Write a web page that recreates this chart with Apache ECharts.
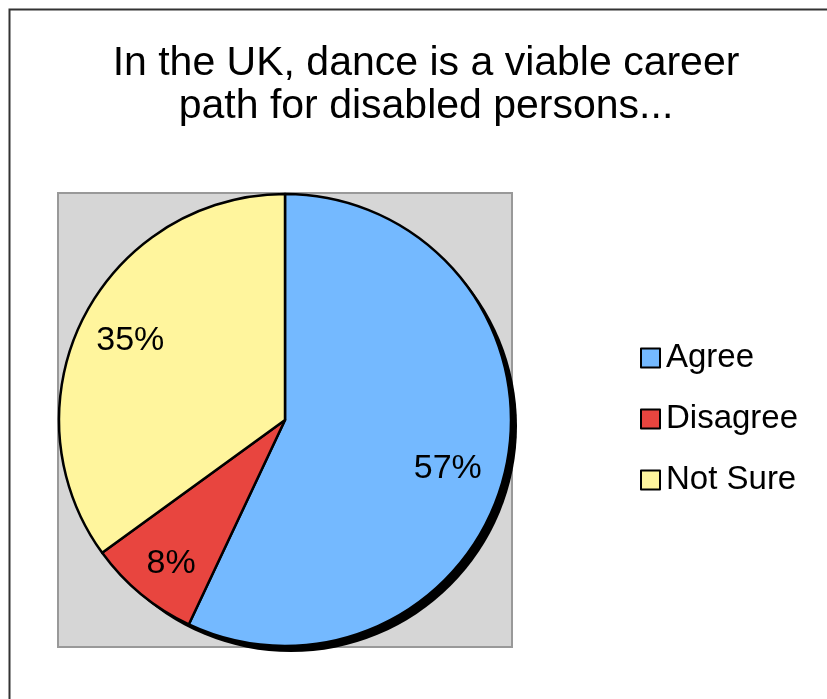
<!DOCTYPE html>
<html>
<head>
<meta charset="utf-8">
<script src="https://cdn.jsdelivr.net/npm/echarts@6/dist/echarts.min.js"></script>
<style>
  html, body { margin: 0; padding: 0; background: #ffffff; }
  #chart { width: 827px; height: 699px; }
</style>
</head>
<body>
<div id="chart"></div>
<script>
// Survey answers (percent of respondents)
const categories = ['Agree', 'Disagree', 'Not Sure'];
const shares = [57, 8, 35];
const sliceColors = ['#74b9ff', '#e8453f', '#fff59d'];
const titleText = 'In the UK, dance is a viable career\npath for disabled persons...';

// Layout
const FONT = 'Liberation Sans';
const pieCenter = [285, 420];
const pieRadius = 226;
const labelNudge = { 'Agree': [-10, 10], 'Disagree': [-1, 7], 'Not Sure': [3, 1] };

const pieData = categories.map((name, i) => ({
  name: name,
  value: shares[i],
  itemStyle: { color: sliceColors[i] }
}));

const chart = echarts.init(document.getElementById('chart'), null, { renderer: 'canvas' });

chart.setOption({
  animation: false,
  backgroundColor: '#ffffff',
  title: {
    text: titleText,
    left: 421,
    top: 37,
    textAlign: 'center',
    textStyle: {
      fontFamily: FONT,
      fontSize: 41,
      fontWeight: 'normal',
      color: '#000000',
      lineHeight: 43
    }
  },
  graphic: [
    {
      type: 'rect',
      z: -10,
      shape: { x: 9.5, y: 9.5, width: 900, height: 800 },
      style: { fill: '#ffffff', stroke: '#333333', lineWidth: 2 }
    },
    {
      type: 'rect',
      z: -5,
      shape: { x: 58, y: 193, width: 454, height: 454 },
      style: { fill: '#d6d6d6', stroke: '#999999', lineWidth: 2 }
    }
  ],
  legend: {
    orient: 'vertical',
    left: 640,
    top: 340,
    padding: 0,
    itemGap: 25,
    itemWidth: 19,
    itemHeight: 19,
    icon: 'rect',
    data: categories,
    textStyle: { fontFamily: FONT, fontSize: 33, lineHeight: 36, color: '#000000', padding: [0, 0, 0, 1] }
  },
  series: [
    {
      // drop shadow disc behind the pie
      type: 'pie',
      silent: true,
      center: [pieCenter[0] + 6, pieCenter[1] + 6],
      radius: pieRadius,
      label: { show: false },
      labelLine: { show: false },
      itemStyle: { color: '#000000', borderWidth: 0 },
      data: [{ name: '_shadow', value: 1 }],
      z: 1
    },
    {
      type: 'pie',
      center: pieCenter,
      radius: pieRadius,
      startAngle: 90,
      clockwise: true,
      label: { show: false },
      labelLine: { show: false },
      itemStyle: { borderColor: '#000000', borderWidth: 2.5 },
      data: pieData,
      z: 2
    },
    {
      // transparent ring carrying the percentage labels
      type: 'pie',
      silent: true,
      center: pieCenter,
      radius: [pieRadius * 0.54, pieRadius],
      startAngle: 90,
      clockwise: true,
      itemStyle: { color: 'transparent', borderWidth: 0 },
      label: {
        show: true,
        position: 'inside',
        formatter: '{c}%',
        fontFamily: FONT,
        fontSize: 34,
        color: '#000000'
      },
      labelLine: { show: false },
      data: pieData.map(d => ({
        name: d.name,
        value: d.value,
        itemStyle: { color: 'transparent' },
        label: { offset: labelNudge[d.name] }
      })),
      z: 3
    }
  ]
});
</script>
</body>
</html>
